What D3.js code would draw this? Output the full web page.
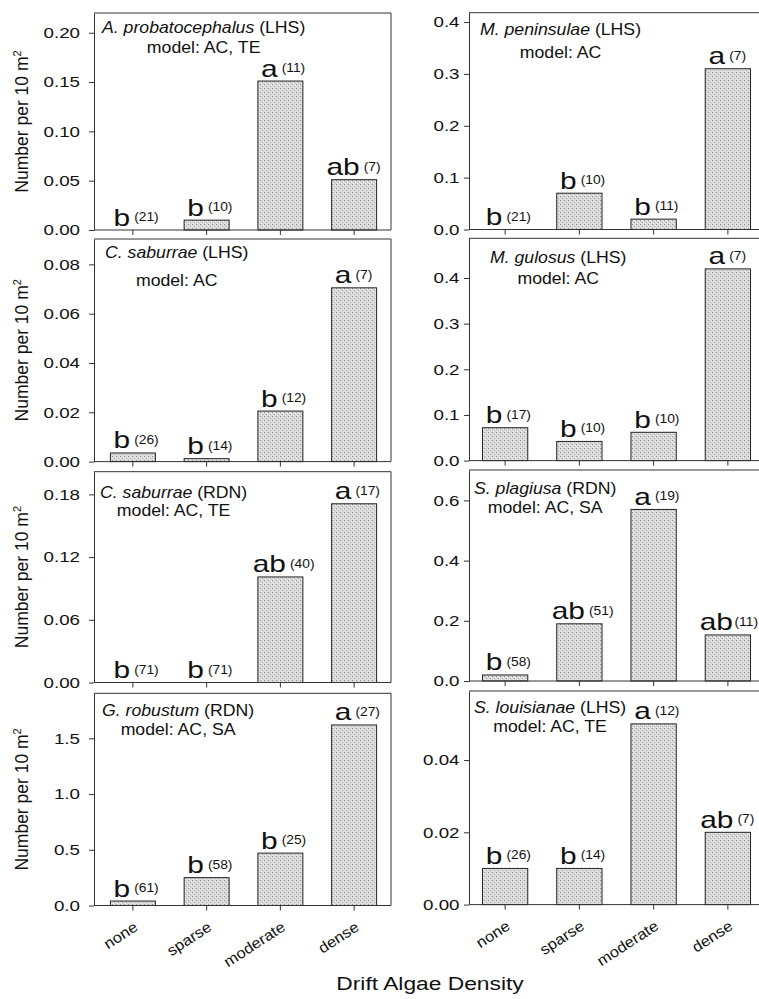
<!DOCTYPE html>
<html><head><meta charset="utf-8">
<script src="https://cdn.jsdelivr.net/npm/d3@7"></script>
<style>
body{margin:0;background:#fff}
svg{display:block}
text{font-family:"Liberation Sans",Arial,Helvetica,sans-serif;fill:#111}
</style>
</head><body>
<svg id="chart" width="759" height="999"></svg>
<script>
// ---------------- DATA ----------------
const categories = ["none", "sparse", "moderate", "dense"];
const species = ["A. probatocephalus", "M. peninsulae", "C. saburrae", "M. gulosus",
                 "C. saburrae", "S. plagiusa", "G. robustum", "S. louisianae"];
const sites = ["(LHS)", "(LHS)", "(LHS)", "(LHS)", "(RDN)", "(RDN)", "(RDN)", "(LHS)"];
const models = ["model: AC, TE", "model: AC", "model: AC", "model: AC",
                "model: AC, TE", "model: AC, SA", "model: AC, SA", "model: AC, TE"];

const valuesAProbLHS = [0, 0.01, 0.151, 0.051];
const valuesMPenLHS  = [0, 0.07, 0.02, 0.31];
const valuesCSabLHS  = [0.0035, 0.0012, 0.0205, 0.0705];
const valuesMGulLHS  = [0.072, 0.042, 0.062, 0.42];
const valuesCSabRDN  = [0, 0, 0.101, 0.171];
const valuesSPlaRDN  = [0.02, 0.19, 0.57, 0.153];
const valuesGRobRDN  = [0.04, 0.25, 0.47, 1.62];
const valuesSLouLHS  = [0.01, 0.01, 0.05, 0.02];

const lettersAProbLHS = ["b", "b", "a", "ab"];
const lettersMPenLHS  = ["b", "b", "b", "a"];
const lettersCSabLHS  = ["b", "b", "b", "a"];
const lettersMGulLHS  = ["b", "b", "b", "a"];
const lettersCSabRDN  = ["b", "b", "ab", "a"];
const lettersSPlaRDN  = ["b", "ab", "a", "ab"];
const lettersGRobRDN  = ["b", "b", "b", "a"];
const lettersSLouLHS  = ["b", "b", "a", "ab"];

const nAProbLHS = [21, 10, 11, 7];
const nMPenLHS  = [21, 10, 11, 7];
const nCSabLHS  = [26, 14, 12, 7];
const nMGulLHS  = [17, 10, 10, 7];
const nCSabRDN  = [71, 71, 40, 17];
const nSPlaRDN  = [58, 51, 19, 11];
const nGRobRDN  = [61, 58, 25, 27];
const nSLouLHS  = [26, 14, 12, 7];

const ticksAProbLHS = [0, 0.05, 0.10, 0.15, 0.20];
const ticksMPenLHS  = [0, 0.1, 0.2, 0.3, 0.4];
const ticksCSabLHS  = [0, 0.02, 0.04, 0.06, 0.08];
const ticksMGulLHS  = [0, 0.1, 0.2, 0.3, 0.4];
const ticksCSabRDN  = [0, 0.06, 0.12, 0.18];
const ticksSPlaRDN  = [0, 0.2, 0.4, 0.6];
const ticksGRobRDN  = [0, 0.5, 1.0, 1.5];
const ticksSLouLHS  = [0, 0.02, 0.04];

const tickLabelsAProbLHS = ["0.00", "0.05", "0.10", "0.15", "0.20"];
const tickLabelsMPenLHS  = ["0.0", "0.1", "0.2", "0.3", "0.4"];
const tickLabelsCSabLHS  = ["0.00", "0.02", "0.04", "0.06", "0.08"];
const tickLabelsMGulLHS  = ["0.0", "0.1", "0.2", "0.3", "0.4"];
const tickLabelsCSabRDN  = ["0.00", "0.06", "0.12", "0.18"];
const tickLabelsSPlaRDN  = ["0.0", "0.2", "0.4", "0.6"];
const tickLabelsGRobRDN  = ["0.0", "0.5", "1.0", "1.5"];
const tickLabelsSLouLHS  = ["0.00", "0.02", "0.04"];

const yMaxes = [0.22, 0.418, 0.0903, 0.487, 0.2017, 0.701, 1.904, 0.0591];

const yAxisTitle = "Number per 10 m";
const xAxisTitle = "Drift Algae Density";

const panels = [
  {values: valuesAProbLHS, letters: lettersAProbLHS, n: nAProbLHS, ticks: ticksAProbLHS, labels: tickLabelsAProbLHS},
  {values: valuesMPenLHS,  letters: lettersMPenLHS,  n: nMPenLHS,  ticks: ticksMPenLHS,  labels: tickLabelsMPenLHS},
  {values: valuesCSabLHS,  letters: lettersCSabLHS,  n: nCSabLHS,  ticks: ticksCSabLHS,  labels: tickLabelsCSabLHS},
  {values: valuesMGulLHS,  letters: lettersMGulLHS,  n: nMGulLHS,  ticks: ticksMGulLHS,  labels: tickLabelsMGulLHS},
  {values: valuesCSabRDN,  letters: lettersCSabRDN,  n: nCSabRDN,  ticks: ticksCSabRDN,  labels: tickLabelsCSabRDN},
  {values: valuesSPlaRDN,  letters: lettersSPlaRDN,  n: nSPlaRDN,  ticks: ticksSPlaRDN,  labels: tickLabelsSPlaRDN},
  {values: valuesGRobRDN,  letters: lettersGRobRDN,  n: nGRobRDN,  ticks: ticksGRobRDN,  labels: tickLabelsGRobRDN},
  {values: valuesSLouLHS,  letters: lettersSLouLHS,  n: nSLouLHS,  ticks: ticksSLouLHS,  labels: tickLabelsSLouLHS}
];

// ---------------- LAYOUT ----------------
const cols = [
  {axis: 94,  r0: 96,  r1: 391, pad: 14},
  {axis: 469, r0: 468, r1: 765, pad: 9.5}
];
const rowFrames = [
  [[13, 230], [239, 461.6], [471.7, 682.5], [693.3, 905.5]],
  [[12.7, 229.5], [238.3, 460.6], [470, 681], [691, 904.6]]
];
// title x offset from axis, title baseline offset from frame top, model line offset from title
const titleOffsets = [
  [8, 20, 20], [11, 22, 23], [11, 19, 28], [21, 25, 21],
  [6, 26, 18], [5, 24, 19], [8, 23, 19], [5, 22, 19]
];
const LINE = "#333";
const RIGHT_LIMIT = 758;
const SX_TICK = 1.25, SX_LET = 1.3, SX_N = 1.15, SX_TITLE = 1.04, SX_XT = 1.1, SX_XTITLE = 1.2;

const svg = d3.select("#chart");
const defs = svg.append("defs");
const pat = defs.append("pattern").attr("id", "stip")
  .attr("patternUnits", "userSpaceOnUse").attr("width", 4).attr("height", 4);
pat.append("rect").attr("width", 4).attr("height", 4).attr("fill", "#d9d9d9");
pat.append("rect").attr("x", 0).attr("y", 0).attr("width", 1).attr("height", 1).attr("fill", "#909090");
pat.append("rect").attr("x", 2).attr("y", 2).attr("width", 1).attr("height", 1).attr("fill", "#aaaaaa");
pat.append("rect").attr("x", 3).attr("y", 1).attr("width", 1).attr("height", 1).attr("fill", "#f2f2f2");
pat.append("rect").attr("x", 1).attr("y", 3).attr("width", 1).attr("height", 1).attr("fill", "#f2f2f2");

panels.forEach((p, i) => {
  const col = i % 2, row = Math.floor(i / 2);
  const C = cols[col];
  const [top, bot] = rowFrames[col][row];
  const x = d3.scaleBand().domain(categories).range([C.r0, C.r1])
    .paddingInner(0.39).paddingOuter(0.195);
  const y = d3.scaleLinear().domain([0, yMaxes[i]]).range([bot, top]);
  const g = svg.append("g");

  // frame (top + right)
  g.append("path").attr("d", `M${C.axis},${top}H${C.r1}V${bot}`)
    .attr("fill", "none").attr("stroke", LINE).attr("stroke-width", 1);

  // bars
  g.selectAll("rect.bar").data(categories.map((c, j) => ({c, v: p.values[j]})).filter(d => d.v > 0))
    .join("rect").attr("class", "bar")
    .attr("x", d => x(d.c)).attr("y", d => y(d.v))
    .attr("width", x.bandwidth()).attr("height", d => bot - y(d.v))
    .attr("fill", "url(#stip)").attr("stroke", "#222").attr("stroke-width", 1);

  // y axis
  const ya = g.append("g").attr("transform", `translate(${C.axis},0)`)
    .call(d3.axisLeft(y).tickValues(p.ticks).tickSize(5).tickSizeOuter(0)
      .tickFormat(d => p.labels[p.ticks.indexOf(d)]));
  ya.select(".domain").attr("stroke", LINE);
  ya.selectAll(".tick line").attr("stroke", LINE);
  ya.selectAll(".tick text").attr("font-size", 15)
    .attr("fill", "#111").attr("x", -C.pad / SX_TICK).attr("transform", `scale(${SX_TICK},1)`);
  ya.attr("font-family", null);

  // x axis
  const xa = g.append("g").attr("transform", `translate(0,${bot})`)
    .call(d3.axisBottom(x).tickSize(5).tickSizeOuter(0).tickFormat(row === 3 ? (d => d) : () => ""));
  xa.select(".domain").remove();
  xa.attr("font-family", null);
  xa.append("line").attr("x1", C.axis).attr("x2", C.r1).attr("y1", 0).attr("y2", 0).attr("stroke", LINE);
  xa.selectAll(".tick line").attr("stroke", LINE);
  xa.selectAll(".tick text").attr("font-size", 15).attr("fill", "#111")
    .attr("y", 0).attr("dy", 0).attr("text-anchor", "end")
    .attr("transform", `translate(6,24) rotate(-33) scale(${SX_XT},1)`);

  // significance letters and sample sizes
  categories.forEach((c, j) => {
    const cx = x(c) + x.bandwidth() / 2;
    const ty = y(p.values[j]) - 4.5;
    const lt = g.append("text").attr("text-anchor", "middle").attr("font-size", 23)
      .text(p.letters[j]);
    const lw = lt.node().getComputedTextLength() * SX_LET;
    const nt = g.append("text").attr("font-size", 12).text(`(${p.n[j]})`);
    const nw = nt.node().getComputedTextLength() * SX_N;
    let lx = cx - 11, gap = 4;
    let over = lx + lw / 2 + gap + nw - RIGHT_LIMIT;
    if (over > 0) { gap = 1.5; over = lx + lw / 2 + gap + nw - RIGHT_LIMIT; if (over > 0) lx -= over; }
    lt.attr("transform", `translate(${lx},${ty}) scale(${SX_LET},1)`);
    nt.attr("transform", `translate(${lx + lw / 2 + gap},${ty - 4.5}) scale(${SX_N},1)`);
  });

  // panel title
  const [tdx, tdy, mdy] = titleOffsets[i];
  const tt = g.append("text").attr("font-size", 17)
    .attr("transform", `translate(${C.axis + tdx},${top + tdy}) scale(${SX_TITLE},1)`);
  tt.append("tspan").attr("font-style", "italic").text(species[i]);
  tt.append("tspan").text(" " + sites[i]);
  const tw = tt.node().getComputedTextLength() * SX_TITLE;
  g.append("text").attr("font-size", 17).attr("text-anchor", "middle")
    .attr("transform", `translate(${C.axis + tdx + tw / 2},${top + tdy + mdy}) scale(${SX_TITLE},1)`)
    .text(models[i]);

  // y axis title (left column only)
  if (col === 0) {
    const yt = svg.append("text").attr("font-size", 17.5).attr("text-anchor", "middle")
      .attr("transform", `translate(28,${(top + bot) / 2}) rotate(-90)`);
    yt.append("tspan").text(yAxisTitle);
    yt.append("tspan").attr("font-size", 11).attr("dy", -7).text("2");
  }
});

// x axis title
svg.append("text").attr("font-size", 19).attr("text-anchor", "middle")
  .attr("transform", `translate(430,990) scale(${SX_XTITLE},1)`).text(xAxisTitle);
</script>
</body></html>
